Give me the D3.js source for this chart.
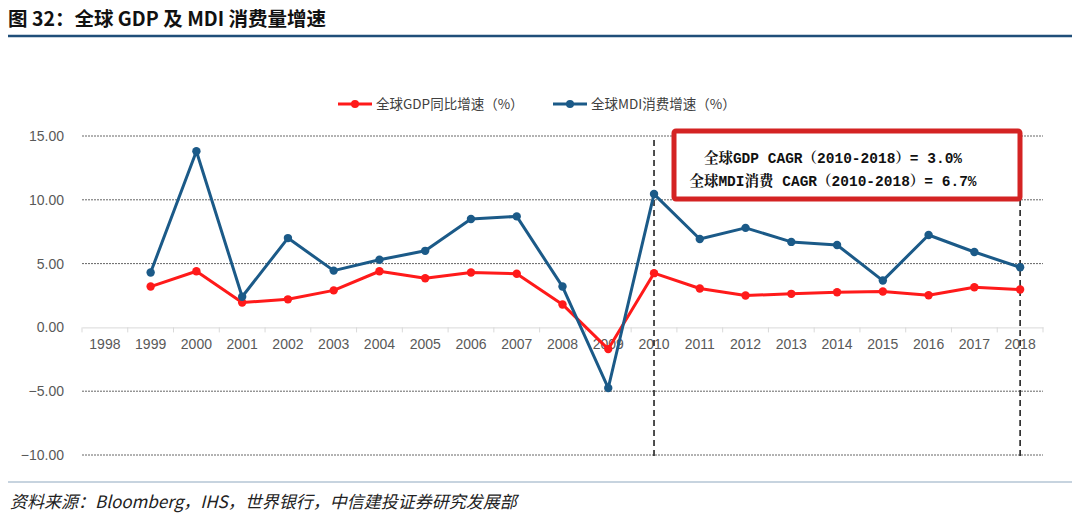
<!DOCTYPE html>
<html><head><meta charset="utf-8">
<script src="https://cdn.jsdelivr.net/npm/d3@7"></script>
<style>
body{margin:0;background:#fff;}
svg{display:block;}
</style></head>
<body><svg id="c" width="1080" height="516"></svg>
<script>
const years = ["1998","1999","2000","2001","2002","2003","2004","2005","2006","2007","2008","2009","2010","2011","2012","2013","2014","2015","2016","2017","2018"];
const gdpGrowth = [null,3.2,4.4,1.95,2.2,2.9,4.4,3.85,4.3,4.2,1.8,-1.7,4.25,3.05,2.5,2.63,2.76,2.81,2.52,3.15,2.97];
const mdiGrowth = [null,4.3,13.8,2.4,7.0,4.45,5.3,6.0,8.5,8.7,3.2,-4.75,10.45,6.93,7.8,6.7,6.46,3.67,7.24,5.91,4.71];
const yTicks = [15,10,5,0,-5,-10];
const seriesNames = ["全球GDP同比增速（%）","全球MDI消费增速（%）"];
const boxLines = ["全球GDP CAGR（2010-2018）= 3.0%","全球MDI消费 CAGR（2010-2018）= 6.7%"];
const markYears = ["2010","2018"];

const svg = d3.select("#c");
const x = d3.scaleBand().domain(years).range([82,1043]);
const y = d3.scaleLinear().domain([-10,15]).range([455,136]);
const cx = d => x(d)+x.bandwidth()/2;

// title
svg.append("text").attr("x",8).attr("y",26).attr("font-family","'Noto Sans CJK SC',sans-serif")
  .attr("font-size",19.5).attr("font-weight","bold").attr("fill","#111").text("图 32：全球 GDP 及 MDI 消费量增速");
svg.append("line").attr("x1",8).attr("x2",1072).attr("y1",36).attr("y2",36).attr("stroke","#1f4e79").attr("stroke-width",2.5);
svg.append("line").attr("x1",8).attr("x2",1072).attr("y1",482).attr("y2",482).attr("stroke","#8fa8bf").attr("stroke-width",1);
svg.append("text").attr("x",10).attr("y",508).attr("font-family","'Noto Sans CJK SC',sans-serif")
  .attr("font-size",17).attr("font-style","italic").attr("fill","#222").text("资料来源：Bloomberg，IHS，世界银行，中信建投证券研究发展部");

// grid
svg.append("g").selectAll("line").data(yTicks.filter(t=>t!==0)).join("line")
  .attr("x1",82).attr("x2",1043).attr("y1",d=>y(d)).attr("y2",d=>y(d))
  .attr("stroke","#666").attr("stroke-width",1).attr("stroke-dasharray","2,1");

// y axis labels
const yAxis = d3.axisLeft(y).tickValues(yTicks).tickFormat(d3.format(".2f")).tickSize(0).tickPadding(0);
const gy = svg.append("g").attr("transform","translate(64,0)").call(yAxis);
gy.select(".domain").remove();
gy.selectAll("text").attr("font-family","'Liberation Sans',Arial,sans-serif").attr("font-size",14).attr("fill","#595959");

// x axis
const xAxis = d3.axisBottom(x).tickSize(0).tickPadding(12);
const gx = svg.append("g").attr("transform",`translate(0,${y(0)})`).call(xAxis);
gx.select(".domain").attr("stroke","#d9d9d9");
gx.selectAll("text").attr("font-family","'Liberation Sans',Arial,sans-serif").attr("font-size",14).attr("fill","#595959");
svg.append("g").selectAll("line").data(years.concat(["end"])).join("line")
  .attr("x1",(d,i)=>82+i*x.step()).attr("x2",(d,i)=>82+i*x.step())
  .attr("y1",y(0)).attr("y2",y(0)+5).attr("stroke","#d9d9d9");

// vertical dashed lines
svg.append("g").selectAll("line").data(markYears).join("line")
  .attr("x1",d=>cx(d)).attr("x2",d=>cx(d)).attr("y1",140).attr("y2",458)
  .attr("stroke","#222").attr("stroke-width",1.6).attr("stroke-dasharray","6,4");

// lines
const colors = ["#ff1a1a","#1b5a88"];
[gdpGrowth,mdiGrowth].forEach((vals,k)=>{
  const pts = years.map((yr,i)=>({yr,v:vals[i]})).filter(p=>p.v!==null);
  svg.append("path").datum(pts).attr("fill","none").attr("stroke",colors[k]).attr("stroke-width",3)
    .attr("stroke-linejoin","round")
    .attr("d",d3.line().x(p=>cx(p.yr)).y(p=>y(p.v)));
  svg.append("g").selectAll("circle").data(pts).join("circle")
    .attr("cx",p=>cx(p.yr)).attr("cy",p=>y(p.v)).attr("r",4.2).attr("fill",colors[k]);
});

// annotation box
svg.append("rect").attr("x",674).attr("y",131).attr("width",346).attr("height",68).attr("rx",2)
  .attr("fill","#fff").attr("stroke","#d42323").attr("stroke-width",5);
const bt = svg.append("g").attr("font-family","'Liberation Mono','Noto Serif CJK SC','Noto Sans CJK SC',monospace").attr("font-size",14.5).attr("font-weight","bold").attr("fill","#111");
bt.append("text").attr("x",833).attr("y",163).attr("text-anchor","middle").text(boxLines[0]);
bt.append("text").attr("x",833).attr("y",186).attr("text-anchor","middle").text(boxLines[1]);

// legend
const lg = svg.append("g").attr("font-family","'Noto Sans CJK SC',sans-serif").attr("font-size",13.5).attr("fill","#404040");
[[338,seriesNames[0]],[553,seriesNames[1]]].forEach(([lx,name],k)=>{
  lg.append("line").attr("x1",lx).attr("x2",lx+34).attr("y1",104).attr("y2",104).attr("stroke",colors[k]).attr("stroke-width",3);
  lg.append("circle").attr("cx",lx+17).attr("cy",104).attr("r",4).attr("fill",colors[k]);
  lg.append("text").attr("x",lx+38).attr("y",109).text(name);
});
</script></body></html>
